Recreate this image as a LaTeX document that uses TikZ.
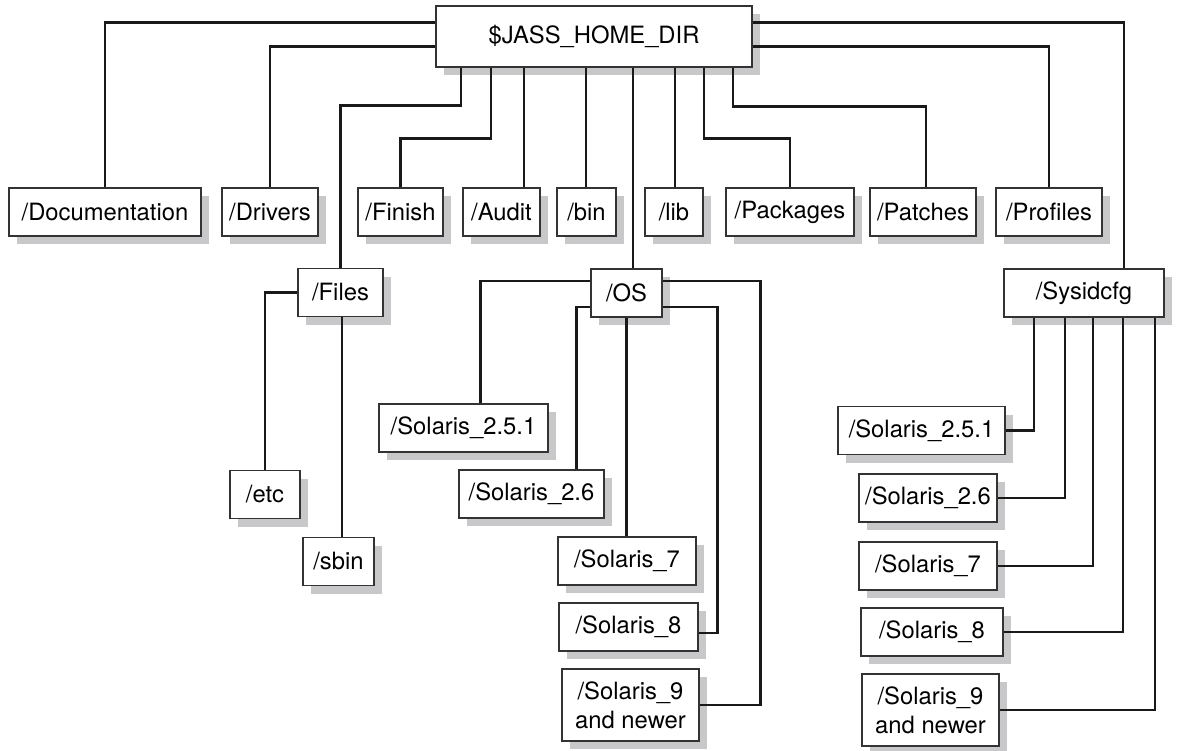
\documentclass[tikz,border=0pt]{standalone}
\usepackage{fontspec}
\setmainfont{TeX Gyre Heros}
\usetikzlibrary{shadows}
\definecolor{shadowgray}{RGB}{200,200,202}
\begin{document}
\begin{tikzpicture}[x=1pt,y=-1pt,
  dirbox/.style={draw=black!80,line width=1.2pt,fill=white,inner sep=0pt,minimum height=48pt,align=center,
    font=\fontsize{23.8}{29}\selectfont,drop shadow={shadow xshift=8pt,shadow yshift=-8pt,fill=shadowgray,opacity=1}},
  link/.style={line width=2.6pt,black!90}]
\useasboundingbox (0,0) rectangle (1180,750);
\node[dirbox,minimum width=316pt,minimum height=61pt] (home) at (594,36.5) {\$JASS\_HOME\_DIR};
\node[dirbox,minimum width=192pt] (doc) at (105,212) {/Documentation};
\node[dirbox,minimum width=96pt] (drv) at (270,212) {/Drivers};
\node[dirbox,minimum width=85pt] (fin) at (400.5,212) {/Finish};
\node[dirbox,minimum width=77pt] (aud) at (501.5,212) {/Audit};
\node[dirbox,minimum width=59pt] (bin) at (586.5,212) {/bin};
\node[dirbox,minimum width=58pt] (lib) at (674,212) {/lib};
\node[dirbox,minimum width=128pt] (pck) at (790,212) {/Packages};
\node[dirbox,minimum width=106pt] (pat) at (923,212) {/Patches};
\node[dirbox,minimum width=106pt] (prof) at (1049,212) {/Profiles};
\node[dirbox,minimum width=85pt] (files) at (340.5,292.5) {/Files};
\node[dirbox,minimum width=71pt] (os) at (626.5,293) {/OS};
\node[dirbox,minimum width=160pt] (sys) at (1084,293) {/Sysidcfg};
\node[dirbox,minimum width=70pt] (etc) at (265,494.5) {/etc};
\node[dirbox,minimum width=71pt] (sbin) at (338.5,561.5) {/sbin};
\node[dirbox,minimum width=169pt] (oa) at (463.5,428) {/Solaris\_2.5.1};
\node[dirbox,minimum width=145pt] (ob) at (531.5,494) {/Solaris\_2.6};
\node[dirbox,minimum width=138pt] (oc) at (627,561) {/Solaris\_7};
\node[dirbox,minimum width=139pt] (od) at (628.5,627) {/Solaris\_8};
\node[dirbox,minimum width=137pt,minimum height=72pt] (oe) at (630.5,705) {/Solaris\_9\\and newer};
\node[dirbox,minimum width=167pt] (sa) at (921.5,430.5) {/Solaris\_2.5.1};
\node[dirbox,minimum width=138pt] (sb) at (928,498) {/Solaris\_2.6};
\node[dirbox,minimum width=138pt] (sc) at (928,566) {/Solaris\_7};
\node[dirbox,minimum width=142pt] (sd) at (932,632) {/Solaris\_8};
\node[dirbox,minimum width=137pt,minimum height=72pt] (se) at (930.5,710) {/Solaris\_9\\and newer};
\foreach \n/\dx in {tFil/-133,tFin/-103,tAud/-70,tBin/-8,tOs/39,tLib/81,tPck/110,tPat/139}
  \coordinate (\n) at ([xshift=\dx pt]home.south);
\draw[link] ([yshift=14pt]home.west) -| (doc);
\draw[link] ([yshift=-10pt]home.west) -| (drv);
\draw[link] (tFil) -- ++(0,38) -| (files);
\draw[link] (tFin) -- ++(0,71) -| (fin);
\draw[link] (tAud) -- (tAud |- aud.north);
\draw[link] (tBin) -- (tBin |- bin.north);
\draw[link] (tOs) -- (tOs |- os.north);
\draw[link] (tLib) -- (tLib |- lib.north);
\draw[link] (tPck) -- ++(0,71) -| (pck);
\draw[link] (tPat) -- ++(0,39) -| ([xshift=3pt]pat.north);
\draw[link] ([yshift=-10pt]home.east) -| (prof);
\draw[link] ([yshift=14pt]home.east) -| ([xshift=40pt]sys.north);
\draw[link] (files.west) -| (etc);
\draw[link] ([xshift=1.5pt]files.south) -- ([xshift=1.5pt]files.south |- sbin.north);
\draw[link] ([yshift=12pt]os.west) -| ([xshift=17pt]oa.north);
\draw[link] ([yshift=-14pt]os.west) -| ([xshift=45pt]ob.north);
\draw[link] (os.south) -- (os.south |- oc.north);
\draw[link] ([yshift=-14pt]os.east) -- ++(55,0) |- ([yshift=-6pt]od.east);
\draw[link] ([yshift=12pt]os.east) -- ++(98,0) |- (oe);
\draw[link] ([xshift=-50pt]sys.south) |- (sa);
\draw[link] ([xshift=-19pt]sys.south) |- (sb);
\draw[link] ([xshift=9pt]sys.south) |- (sc);
\draw[link] ([xshift=39pt]sys.south) |- (sd);
\draw[link] ([xshift=71pt]sys.south) |- (se);
\end{tikzpicture}
\end{document}
